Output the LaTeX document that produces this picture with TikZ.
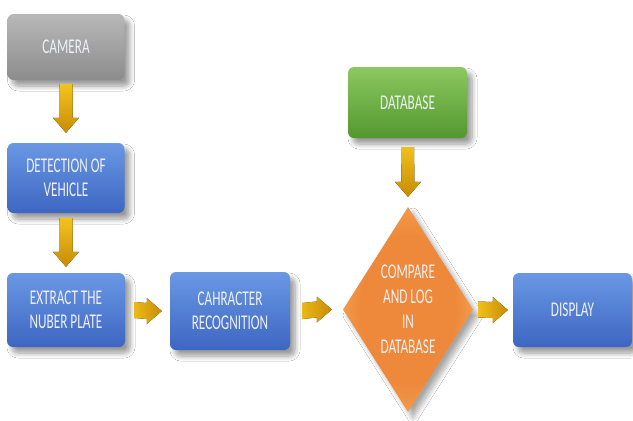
\documentclass[tikz,border=0pt]{standalone}
\usepackage{fontspec}
\newfontfamily\boxfont[FakeStretch=0.63]{Carlito}
\usetikzlibrary{shapes.geometric,calc,shadows.blur}

\definecolor{camTop}{HTML}{B8B8B8}
\definecolor{camBot}{HTML}{8C8C8C}
\definecolor{blueTop}{HTML}{6A98E4}
\definecolor{blueMid}{HTML}{4B7DD5}
\definecolor{blueBot}{HTML}{3D66C2}
\definecolor{greenTop}{HTML}{8CC860}
\definecolor{greenMid}{HTML}{6EB244}
\definecolor{greenBot}{HTML}{52982E}
\definecolor{orangeIn}{HTML}{EE883A}
\definecolor{orangeMid}{HTML}{F29846}
\definecolor{orangeEdge}{HTML}{F8BC6C}
\definecolor{goldLight}{HTML}{F8C820}
\definecolor{goldDark}{HTML}{C88C06}
\definecolor{labelText}{HTML}{EEF0F4}

% orange body with a lighter glow towards the rim of the decision diamond
\pgfdeclareradialshading{diamondglow}{\pgfpoint{0bp}{0bp}}{%
  color(0bp)=(orangeIn); color(18bp)=(orangeIn); color(24bp)=(orangeMid);
  color(32bp)=(orangeEdge); color(50bp)=(orangeEdge)}

\tikzset{
  x=1pt, y=-1pt,
  box/.style={rectangle, rounded corners=6pt, align=center, text=labelText,
    font=\boxfont\fontsize{21}{24}\selectfont, inner sep=0pt,
    blur shadow={shadow xshift=5pt, shadow yshift=-6pt, shadow blur steps=8,
      shadow blur radius=5pt, shadow opacity=40}},
  graybox/.style={box, top color=camTop, bottom color=camBot},
  bluebox/.style={box, top color=blueTop, middle color=blueMid, bottom color=blueBot},
  greenbox/.style={box, top color=greenTop, middle color=greenMid, bottom color=greenBot},
  decision/.style={diamond, aspect=0.634, inner sep=0pt, align=center, text=labelText,
    font=\boxfont\fontsize{21}{25}\selectfont, shading=diamondglow,
    blur shadow={shadow xshift=5pt, shadow yshift=-6pt, shadow blur steps=8,
      shadow blur radius=5pt, shadow opacity=35}},
  vgold/.style={top color=goldLight, bottom color=goldDark},
  hgold/.style={left color=goldLight, right color=goldDark},
  % block arrow pointing down; #1 gap after the source, #2 gap before the target
  varrow/.style 2 args={to path={
    ($(\tikztostart)+(-6.5,#1)$) -- ($(\tikztostart)+(6.5,#1)$)
    -- ($(\tikztotarget)+(6.5,-#2-15)$) -- ($(\tikztotarget)+(13,-#2-15)$)
    -- ($(\tikztotarget)+(0,-#2)$) -- ($(\tikztotarget)+(-13,-#2-15)$)
    -- ($(\tikztotarget)+(-6.5,-#2-15)$) -- cycle}},
  % block arrow pointing right
  harrow/.style 2 args={to path={
    ($(\tikztostart)+(#1,-8)$) -- ($(\tikztotarget)+(-#2-15,-8)$)
    -- ($(\tikztotarget)+(-#2-15,-13)$) -- ($(\tikztotarget)+(-#2,0)$)
    -- ($(\tikztotarget)+(-#2-15,13)$) -- ($(\tikztotarget)+(-#2-15,8)$)
    -- ($(\tikztostart)+(#1,8)$) -- cycle}},
}

\begin{document}
\begin{tikzpicture}
  \fill[white] (0,0) rectangle (633,421);
  \useasboundingbox (0,0) rectangle (633,421);

  \node[graybox, minimum width=117pt, minimum height=66pt] (cam) at (66,47) {CAMERA};
  \node[bluebox, minimum width=117pt, minimum height=70pt] (det) at (66,178) {DETECTION OF\\VEHICLE};
  \node[bluebox, minimum width=118pt, minimum height=74pt] (ext) at (66,310) {EXTRACT THE\\NUBER PLATE};
  \node[bluebox, minimum width=120pt, minimum height=78pt] (chr) at (230,311) {CAHRACTER\\RECOGNITION};
  \node[greenbox, minimum width=119pt, minimum height=71pt] (db) at (407.5,102.5) {DATABASE};
  \node[decision, minimum width=130pt, minimum height=205pt] (cmp) at (408,309.5) {COMPARE\\AND LOG\\IN\\DATABASE};
  \node[bluebox, minimum width=119pt, minimum height=74pt] (disp) at (572.5,310) {DISPLAY};

  \fill[vgold] (cam.south) to[varrow={4}{10}] (det.north);
  \fill[vgold] (det.south) to[varrow={5}{6}] (ext.north);
  \fill[vgold] (db.south) to[varrow={9}{10}] (cmp.north);
  \fill[hgold] (ext.east) to[harrow={9}{8}] (chr.west);
  \fill[hgold] (chr.east) to[harrow={12}{11}] (cmp.west);
  \fill[hgold] (cmp.east) to[harrow={5}{5}] (disp.west);
\end{tikzpicture}
\end{document}
